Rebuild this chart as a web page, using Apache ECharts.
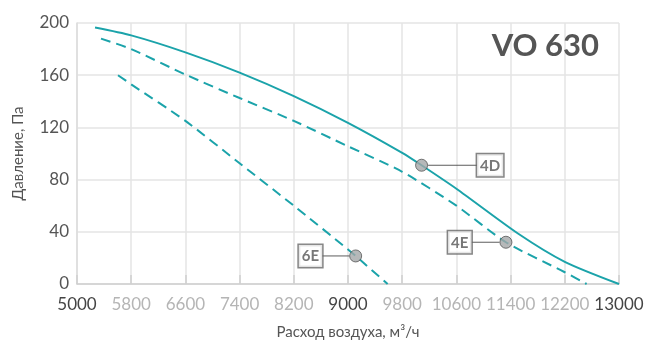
<!DOCTYPE html>
<html><head><meta charset="utf-8">
<script src="https://cdn.jsdelivr.net/npm/echarts@6/dist/echarts.min.js"></script>
<style>html,body{margin:0;padding:0;background:#fff}#c{width:648px;height:345px}</style>
</head><body><div id="c"></div>
<script>
var xTicks = [5000,5800,6600,7400,8200,9000,9800,10600,11400,12200,13000];
var darkTicks = [5000,9000,13000];
var curve4D = [[5266,196.5],[5800,190.5],[6600,177.5],[7400,162],[8200,144],[9000,123.5],[9800,100.5],[10086,91],[10600,73],[11514,38.5],[12200,17],[13000,0]];
var curve4E = [[5354,188],[5800,180],[6600,160.5],[7400,142.5],[8200,125],[9000,105.5],[9800,86],[10600,60],[11331,32],[12200,9],[12522,0]];
var curve6E = [[5605,160],[5800,153],[6600,125],[7400,92.5],[8200,60],[9000,26.5],[9113,21.5],[9585,0]];
var markers = [
  {name:'4D', value:[10086,91], side:'right', lead:49},
  {name:'4E', value:[11331,32], side:'left', lead:28},
  {name:'6E', value:[9113,21.5], side:'left', lead:27}
];
var teal = '#1ba3aa';
var font = 'Lato';
var chart = echarts.init(document.getElementById('c'));
function lineSeries(data, dashed){
  return {type:'line', data:data, smooth:0.25, symbol:'none', silent:true,
    lineStyle:{color:teal, width:2, type: dashed ? [10,6] : 'solid'}, z:2};
}
chart.setOption({
  animation:false,
  title:{text:'VO 630', right:44, top:25, textStyle:{fontFamily:font, fontSize:31, fontWeight:'bold', color:'#555'}},
  grid:{left:77, right:29, top:23, bottom:59},
  xAxis:{type:'value', min:5000, max:13000, interval:800,
    name:'Расход воздуха, м³/ч', nameLocation:'middle', nameGap:41,
    nameTextStyle:{fontFamily:font, fontSize:15, color:'#555'},
    axisLine:{lineStyle:{color:'#cfcfcf', width:1.5}},
    axisTick:{show:true, inside:true, length:9, lineStyle:{color:'#cfcfcf', width:1.5}},
    splitLine:{show:true, lineStyle:{color:'#e4e4e4', width:1.5}},
    axisLabel:{margin:12, formatter:function(v){return darkTicks.indexOf(v)>=0 ? '{d|'+v+'}' : '{l|'+v+'}';},
      rich:{d:{fontFamily:font, fontSize:17, color:'#444'}, l:{fontFamily:font, fontSize:17, color:'#b5b5b5'}}}
  },
  yAxis:{type:'value', min:0, max:200, interval:40,
    name:'Давление, Па', nameLocation:'middle', nameGap:51,
    nameTextStyle:{fontFamily:font, fontSize:15, color:'#555'},
    axisLine:{show:true, lineStyle:{color:'#dcdcdc', width:1.5}},
    axisTick:{show:false},
    splitLine:{show:true, lineStyle:{color:'#e4e4e4', width:1.5}},
    axisLabel:{margin:8, fontFamily:font, fontSize:17, color:'#555'}
  },
  series:[
    lineSeries(curve4D,false),
    lineSeries(curve4E,true),
    lineSeries(curve6E,true),
    {type:'scatter', z:5, symbolSize:12, silent:true,
     itemStyle:{color:'#a4a6a8', borderColor:'#555', borderWidth:1},
     data:markers.map(function(m){
       return {name:m.name, value:m.value, label:{show:true, position:m.side, distance:0,
         formatter: m.side==='right' ? '{l|}{b|'+m.name+'}' : '{b|'+m.name+'}{l|}',
         rich:{l:{width:m.lead, height:1, backgroundColor:'#333'},
               b:{fontFamily:font, fontSize:15, fontWeight:'bold', color:'#555', backgroundColor:'#fff',
                  borderColor:'#666', borderWidth:1.5, padding:[4,3,3,3]}}}};
     })
    }
  ]
});
</script></body></html>
